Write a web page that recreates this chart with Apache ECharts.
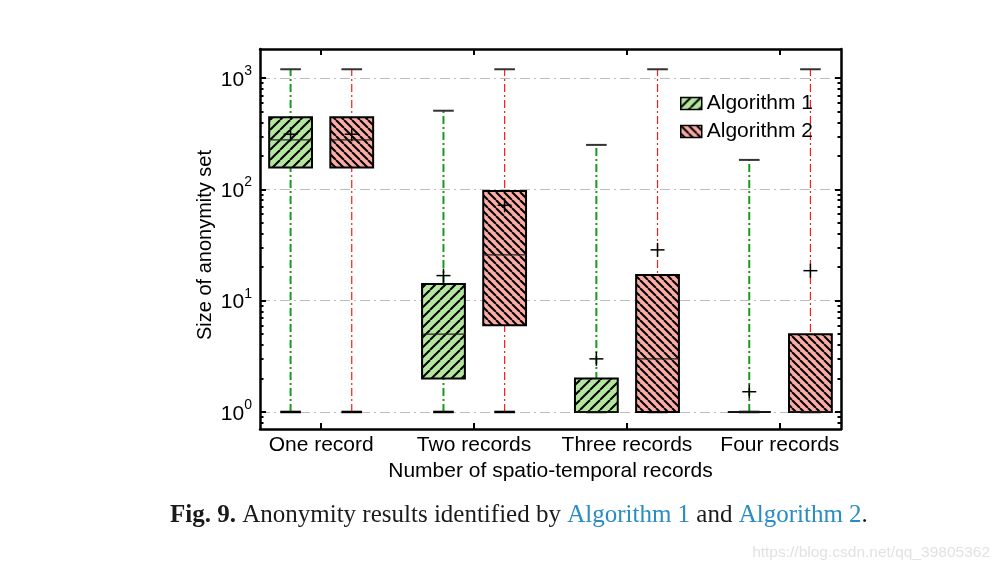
<!DOCTYPE html>
<html>
<head>
<meta charset="utf-8">
<script src="https://cdn.jsdelivr.net/npm/echarts@6/dist/echarts.min.js"></script>
<style>html,body{margin:0;padding:0;background:#fff;}#c{width:1001px;height:572px;}</style>
</head>
<body>
<div id="c"></div>
<script>
// ---- data ----
var categories = ['One record', 'Two records', 'Three records', 'Four records'];
var seriesNames = ['Algorithm 1', 'Algorithm 2'];
var alg1Min    = [1, 1, 1, 1];
var alg1Q1     = [157, 2.0, 1, 1];
var alg1Median = [278, 5.0, 1, 1];
var alg1Q3     = [445, 14.1, 2.0, 1];
var alg1Max    = [1200, 509, 251, 184];
var alg1Mean   = [313, 16.8, 3.0, 1.52];
var alg2Min    = [1, 1, 1, 1];
var alg2Q1     = [157, 6.0, 1, 1];
var alg2Median = [278, 25.8, 3.0, 1];
var alg2Q3     = [445, 96.8, 17, 5.0];
var alg2Max    = [1200, 1200, 1200, 1200];
var alg2Mean   = [313, 72, 28.6, 18.6];
var yMajorTicks = [1, 10, 100, 1000];
var yMin = 0.703, yMax = 1825;

// ---- styling helpers ----
function hatch(bg, dir, step) {
  var c = document.createElement('canvas');
  c.width = step; c.height = step;
  var g = c.getContext('2d');
  g.fillStyle = bg; g.fillRect(0, 0, step, step);
  g.strokeStyle = '#000'; g.lineWidth = 2;
  for (var k = -1; k <= 1; k++) {
    g.beginPath();
    if (dir > 0) { g.moveTo(k * step, step); g.lineTo(k * step + step, 0); }
    else { g.moveTo(k * step, 0); g.lineTo(k * step + step, step); }
    g.stroke();
  }
  return { image: c, repeat: 'repeat' };
}
var pat1 = hatch('#b4e6a0', 1, 10);
var pat2 = hatch('#f9aba6', -1, 8);

var minorTicks = [];
for (var e = -1; e <= 3; e++) {
  for (var m = 2; m <= 9; m++) {
    var v = m * Math.pow(10, e);
    if (v >= yMin && v <= yMax) minorTicks.push(v);
  }
}

function build(minA, q1A, medA, q3A, maxA, meanA) {
  return categories.map(function (c, i) {
    return [i + 1, minA[i], q1A[i], medA[i], q3A[i], maxA[i], meanA[i]];
  });
}

function makeRender(offset, pattern, wColor, wWidth) {
  var boxW = 0.28, capW = 0.135;
  return function (params, api) {
    var x = api.value(0) + offset;
    var pMin = api.coord([x, api.value(1)]);
    var pQ1 = api.coord([x, api.value(2)]);
    var pMed = api.coord([x, api.value(3)]);
    var pQ3 = api.coord([x, api.value(4)]);
    var pMax = api.coord([x, api.value(5)]);
    var pMean = api.coord([x, api.value(6)]);
    var xl = api.coord([x - boxW / 2, 1])[0];
    var xr = api.coord([x + boxW / 2, 1])[0];
    var cl = api.coord([x - capW / 2, 1])[0];
    var cr = api.coord([x + capW / 2, 1])[0];
    var cx = pMin[0];
    var ps = 7;
    return {
      type: 'group',
      children: [
        { type: 'line', shape: { x1: cx, y1: pMin[1], x2: cx, y2: pMax[1] },
          style: { stroke: wColor, lineWidth: wWidth, lineDash: [8, 3, 2, 3] } },
        { type: 'line', shape: { x1: cl, y1: pMax[1], x2: cr, y2: pMax[1] },
          style: { stroke: '#333', lineWidth: 2 } },
        { type: 'line', shape: { x1: cl, y1: pMin[1], x2: cr, y2: pMin[1] },
          style: { stroke: '#000', lineWidth: 2.5 } },
        { type: 'rect', shape: { x: xl, y: pQ3[1], width: xr - xl, height: pQ1[1] - pQ3[1] },
          style: { fill: pattern, stroke: '#000', lineWidth: 2 } },
        { type: 'line', shape: { x1: xl, y1: pMed[1], x2: xr, y2: pMed[1] },
          style: { stroke: '#222', lineWidth: 1.2 } },
        { type: 'line', shape: { x1: pMean[0] - ps, y1: pMean[1], x2: pMean[0] + ps, y2: pMean[1] },
          style: { stroke: '#000', lineWidth: 1.5 } },
        { type: 'line', shape: { x1: pMean[0], y1: pMean[1] - ps, x2: pMean[0], y2: pMean[1] + ps },
          style: { stroke: '#000', lineWidth: 1.5 } }
      ]
    };
  };
}

var FONT = 'Liberation Sans, Arial, sans-serif';
var axisLine = { show: true, onZero: false, lineStyle: { color: '#000', width: 2.5 } };

function yAxisDef(pos, ticks, len, labels, split, line) {
  return {
    type: 'log', logBase: 10, min: yMin, max: yMax, position: pos,
    axisLine: line ? axisLine : { show: false },
    axisTick: { show: true, inside: true, length: len, customValues: ticks,
      lineStyle: { color: '#000', width: 2 } },
    axisLabel: labels ? {
      show: true, customValues: yMajorTicks, margin: 8, color: '#000',
      formatter: function (v) { return '{b|10}{s|' + Math.round(Math.log10(v)) + '}'; },
      rich: {
        b: { fontSize: 21, fontFamily: FONT, color: '#000', padding: [4, 0, 0, 0] },
        s: { fontSize: 14, fontFamily: FONT, color: '#000', padding: [0, 0, 14, 0] }
      }
    } : { show: false },
    splitLine: split ? { show: true, lineStyle: { color: '#bdbdbd', width: 1, type: [10, 4, 2, 4] } } : { show: false },
    minorTick: { show: false },
    name: labels ? 'Size of anonymity set' : '',
    nameLocation: 'middle', nameGap: 45, nameMoveOverlap: false,
    nameTextStyle: { fontSize: 20, fontFamily: FONT, color: '#000', padding: [0, 12, 0, 0] }
  };
}

var chart = echarts.init(document.getElementById('c'), null, { renderer: 'canvas' });
chart.setOption({
  animation: false,
  backgroundColor: '#fff',
  grid: { left: 260, right: 160, top: 49, bottom: 143, containLabel: false },
  legend: {
    data: seriesNames, orient: 'vertical', left: 675, top: 88,
    itemWidth: 21, itemHeight: 12, itemGap: 7, icon: 'rect',
    itemStyle: { borderColor: '#000', borderWidth: 1.5 },
    textStyle: { fontSize: 21, fontFamily: FONT, color: '#000' }
  },
  xAxis: [
    {
      type: 'value', min: 0.6, max: 4.4, position: 'bottom',
      axisLine: axisLine,
      axisTick: { show: true, inside: true, length: 6, customValues: [1, 2, 3, 4],
        lineStyle: { color: '#000', width: 2 } },
      axisLabel: { show: true, customValues: [1, 2, 3, 4], margin: 6, color: '#000',
        fontSize: 21, fontFamily: FONT,
        formatter: function (v) { return categories[Math.round(v) - 1]; } },
      splitLine: { show: false },
      name: 'Number of spatio-temporal records', nameLocation: 'middle', nameGap: 31,
      nameTextStyle: { fontSize: 21, fontFamily: FONT, color: '#000' }
    },
    {
      type: 'value', min: 0.6, max: 4.4, position: 'top',
      axisLine: axisLine,
      axisTick: { show: true, inside: true, length: 6, customValues: [1, 2, 3, 4],
        lineStyle: { color: '#000', width: 2 } },
      axisLabel: { show: false }, splitLine: { show: false }
    }
  ],
  yAxis: [
    yAxisDef('left', yMajorTicks, 6, true, true, true),
    yAxisDef('left', minorTicks, 3.5, false, false, false),
    yAxisDef('right', yMajorTicks, 6, false, false, true),
    yAxisDef('right', minorTicks, 3.5, false, false, false)
  ],
  series: [
    {
      name: seriesNames[0], type: 'custom', xAxisIndex: 0, yAxisIndex: 0,
      itemStyle: { color: pat1, borderColor: '#000', borderWidth: 1.5 },
      encode: { x: 0, y: [1, 2, 3, 4, 5, 6] },
      renderItem: makeRender(-0.2, pat1, '#1a9a1a', 2),
      data: build(alg1Min, alg1Q1, alg1Median, alg1Q3, alg1Max, alg1Mean)
    },
    {
      name: seriesNames[1], type: 'custom', xAxisIndex: 0, yAxisIndex: 0,
      itemStyle: { color: pat2, borderColor: '#000', borderWidth: 1.5 },
      encode: { x: 0, y: [1, 2, 3, 4, 5, 6] },
      renderItem: makeRender(0.2, pat2, '#ff1a1a', 1.2),
      data: build(alg2Min, alg2Q1, alg2Median, alg2Q3, alg2Max, alg2Mean)
    }
  ],
  graphic: [
    {
      type: 'text', left: 170, top: 503,
      style: {
        text: '{b|Fig. 9.} Anonymity results identified by {a|Algorithm 1} and {a|Algorithm 2}.',
        font: '25px "Liberation Serif", serif', fill: '#1a1a1a',
        rich: {
          b: { fontWeight: 'bold', fontSize: 25, fontFamily: 'Liberation Serif, serif', fill: '#1a1a1a' },
          a: { fontSize: 25, fontFamily: 'Liberation Serif, serif', fill: '#2a8cc4' }
        }
      }
    },
    {
      type: 'text', right: 11, top: 545,
      style: { text: 'https://blog.csdn.net/qq_39805362', font: '15.5px "Liberation Sans", sans-serif', fill: '#e2e2e2' }
    }
  ]
});
</script>
</body>
</html>
